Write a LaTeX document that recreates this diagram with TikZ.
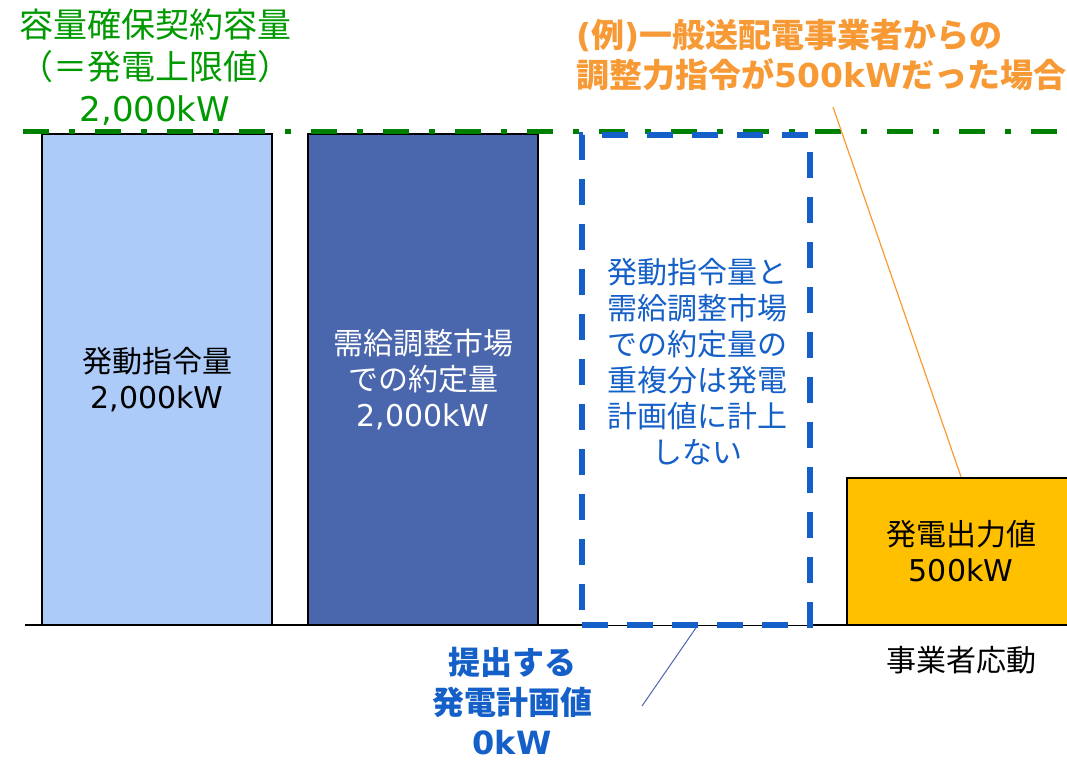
\documentclass[tikz,border=0pt]{standalone}
\usepackage{fontspec}
\setmainfont{DejaVu Sans}
\newfontfamily\jp{Noto Sans CJK JP}
\usetikzlibrary{positioning}
\definecolor{barlight}{HTML}{ADCBF8}
\definecolor{bardark}{HTML}{4A66AC}
\definecolor{capgreen}{HTML}{009A00}
\definecolor{linegreen}{HTML}{008000}
\definecolor{planblue}{HTML}{1560C8}
\definecolor{noteorange}{HTML}{F79A35}
\definecolor{outyellow}{HTML}{FFC000}

\begin{document}
\begin{tikzpicture}[x=1pt, y=-1pt]
  % Define styles
  \tikzstyle{bar}=[rectangle, draw=black, line width=2.5pt, minimum width=230pt, minimum height=491pt, inner sep=0pt, align=center, font=\fontsize{30}{36}\selectfont]
  \tikzstyle{overlapbox}=[rectangle, draw=planblue, fill=white, line width=5.5pt, dash pattern=on 26pt off 19pt, minimum width=228pt, minimum height=490pt, inner sep=0pt]
  \tikzstyle{capline}=[draw=linegreen, line width=5pt, dash pattern=on 26pt off 20pt on 6pt off 20pt]
  \tikzstyle{boxtext}=[align=center, inner sep=0pt, font=\fontsize{30}{36}\selectfont]
  \tikzstyle{callout}=[draw=noteorange, line width=1.2pt]
  \tikzstyle{planline}=[draw=bardark, line width=1pt]

  \useasboundingbox (0,0) rectangle (1067,761);

  % Baseline
  \draw[line width=2pt] (25,625) -- (1067,625);

  % Bars
  \node[bar, fill=barlight] (order) at (157,379.5) {{\jp 発動指令量}\\2,000kW};
  \node[bar, fill=bardark, text=white] (market) at (423,379.5) {{\jp 需給調整市場}\\{\jp での約定量}\\2,000kW};
  \node[bar, fill=outyellow, minimum width=228pt, minimum height=147pt] (output) at (961,551.5) {{\jp 発電出力値}\\500kW};

  % Capacity limit
  \draw[capline] (23,131) -- (1067,131);
  \node[boxtext, text=capgreen, font=\fontsize{34}{42}\selectfont] (capacity) at (155,67) {{\jp 容量確保契約容量}\\{\jp （＝発電上限値）}\\2,000kW};

  % Overlap
  \node[overlapbox] (overlap) at (696,380) {};
  \node[boxtext, text=planblue] (overlaptext) at (697,362) {{\jp 発動指令量と}\\{\jp 需給調整市場}\\{\jp での約定量の}\\{\jp 重複分は発電}\\{\jp 計画値に計上}\\{\jp しない}};

  % Notes
  \node[boxtext, anchor=west, align=left, text=noteorange, font=\fontsize{33}{40}\selectfont\bfseries] (dispatch) at (576,55) {({\jp 例}){\jp 一般送配電事業者からの}\\{\jp 調整力指令が}500kW{\jp だった場合}};
  \node[boxtext, text=planblue, font=\fontsize{32}{40}\selectfont\bfseries] (plan) at (512,701) {{\jp 提出する}\\{\jp 発電計画値}\\0kW};
  \node[boxtext] (response) at (961,660) {\jp 事業者応動};

  % Leaders
  \coordinate (dispatchtip) at (833,107);
  \coordinate (plantip) at (642,706);
  \draw[callout] (dispatchtip) -- (output.north);
  \draw[planline] (overlap.south) -- (plantip);
\end{tikzpicture}
\end{document}
